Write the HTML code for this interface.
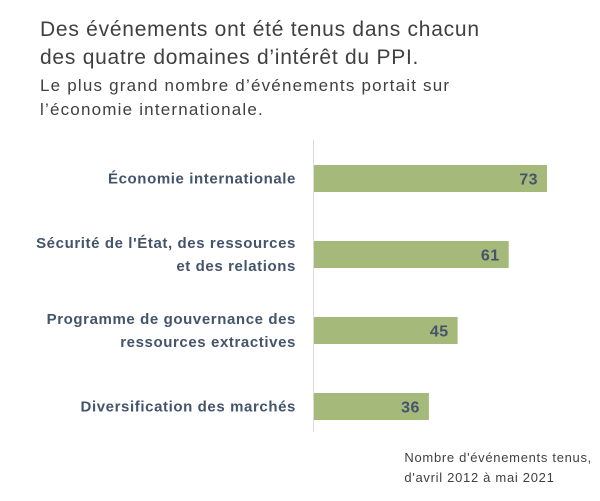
<!DOCTYPE html>
<html><head><meta charset="utf-8"><style>
body{margin:0;width:600px;height:501px;background:#fff;font-family:"Liberation Sans",sans-serif;overflow:hidden;position:relative}
.t{position:absolute;left:40px;top:16px;font-size:21px;color:#404040;line-height:28px;letter-spacing:0.75px}
.s{position:absolute;left:40px;top:74px;font-size:17px;color:#404040;line-height:24px;letter-spacing:1.2px}
.f{position:absolute;right:8px;top:448px;font-size:13px;color:#404040;line-height:20px;text-align:left;letter-spacing:0.7px}
</style></head><body>
<div class="t">Des événements ont été tenus dans chacun<br>des quatre domaines d’intérêt du PPI.</div>
<div class="s">Le plus grand nombre d’événements portait sur<br>l’économie internationale.</div>
<svg id="c" width="600" height="501" style="position:absolute;left:0;top:0"></svg>
<div class="f">Nombre d'événements tenus,<br>d'avril 2012 à mai 2021</div>
<script>
const categories=[["Économie internationale"],["Sécurité de l'État, des ressources","et des relations"],["Programme de gouvernance des","ressources extractives"],["Diversification des marchés"]];
const values=[73,61,45,36];
const ns="http://www.w3.org/2000/svg",svg=document.getElementById('c');
const x0=314,scale=233/73;
const xs=v=>x0+v*scale;
const yb=i=>165+i*76;
const bh=27;
function mk(t,a){const e=document.createElementNS(ns,t);for(const k in a)e.setAttribute(k,a[k]);svg.appendChild(e);return e;}
const ax=mk('line',{x1:313.5,x2:313.5,y1:140,y2:432,stroke:'#d9d9d9','stroke-width':1});


values.forEach((v,i)=>{
 const r=mk('rect',{x:x0,y:yb(i),width:xs(v)-x0,height:bh,fill:'#a5b97b'});
 
 
 const t=mk('text',{x:xs(v)-9,y:yb(i)+bh/2+6,'text-anchor':'end','font-size':16,'font-weight':'bold',fill:'#44546a','font-family':'Liberation Sans, sans-serif','letter-spacing':0.5});
 t.textContent=v;
 
 
 const lines=categories[i];
 lines.forEach((ln,j)=>{
  const c=mk('text',{x:296,y:yb(i)+bh/2+5+(j-(lines.length-1)/2)*23,'text-anchor':'end','font-size':15,'font-weight':'bold',fill:'#44546a','font-family':'Liberation Sans, sans-serif','letter-spacing':0.6});
  c.textContent=ln;
  
  
 });
});
</script>
</body></html>
